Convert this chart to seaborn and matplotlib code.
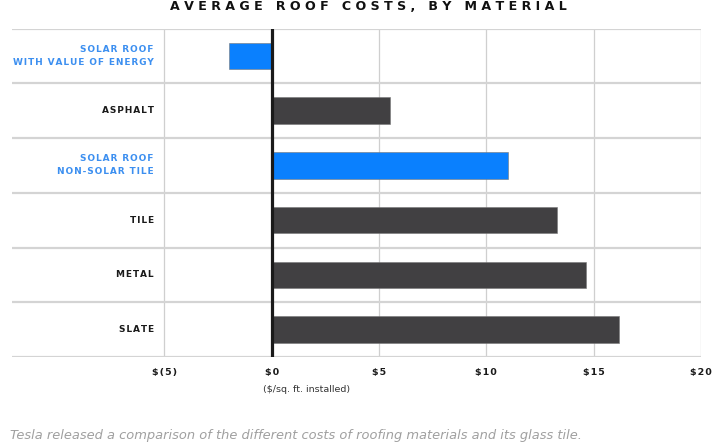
"""
Average roof costs by material, horizontal bar chart.
"""

import matplotlib
matplotlib.use('Agg')
import matplotlib.pyplot as plt
import seaborn as sns
import pandas as pd

materials = ['SOLAR ROOF\nWITH VALUE OF ENERGY', 'ASPHALT', 'SOLAR ROOF\nNON-SOLAR TILE',
             'TILE', 'METAL', 'SLATE']
costs = [-2.0, 5.5, 11.0, 13.3, 14.65, 16.2]
is_solar = [True, False, True, False, False, False]
tick_values = [-5, 0, 5, 10, 15, 20]
tick_labels = ['$(5)', '$0', '$5', '$10', '$15', '$20']

BLUE = '#0a80fe'
BLUE_TEXT = '#3c8ff0'
DARK = '#414042'


def spaced(s, sep=' '):
    # fake letter spacing, matplotlib has none
    return '\n'.join(sep.join(list(line)) for line in s.split('\n'))


def plot_roof_costs(save_path='out.png'):
    sns.set_style('white')
    plt.rcParams['font.family'] = ['DejaVu Sans']

    df = pd.DataFrame({'material': materials, 'cost': costs})
    colors = [BLUE if s else DARK for s in is_solar]

    fig = plt.figure(figsize=(7.17, 4.46), dpi=100)
    ax = fig.add_axes([12 / 717, 1 - 357 / 446, (701 - 12) / 717, (357 - 28.5) / 446])

    sns.barplot(data=df, y='material', x='cost', hue='material', palette=colors,
                orient='h', width=0.48, legend=False, ax=ax, saturation=1,
                edgecolor='#777777', linewidth=0.4)

    ax.set_xlim(-12.1, 20)
    ax.set_ylim(5.5, -0.5)

    # grid
    for v in tick_values:
        ax.axvline(v, color='#cfcfcf', lw=0.9, zorder=0)
    for i in range(len(materials) + 1):
        ax.axhline(i - 0.5, color='#d4d4d4', lw=1.6, zorder=0)
    ax.axvline(0, color='#1a1a1a', lw=2.3, zorder=5)

    for sp in ax.spines.values():
        sp.set_visible(False)

    ax.set_yticks([])
    ax.set_ylabel('')
    ax.set_xlabel('')
    ax.set_xticks(tick_values)
    ax.set_xticklabels([spaced(t, '\u200a') for t in tick_labels], fontsize=6.8,
                       fontweight='bold', color='#1a1a1a')
    ax.tick_params(axis='x', length=0, pad=8)

    for i, (name, solar) in enumerate(zip(materials, is_solar)):
        ax.text(-5.5, i, spaced(name, '\u200a'), ha='right', va='center', fontsize=6.5,
                fontweight='bold', color=BLUE_TEXT if solar else '#1a1a1a', linespacing=1.6)

    fig.text(307 / 717, 1 - 389 / 446, '($/sq. ft. installed)', ha='center', va='center',
             fontsize=6.8, color='#333333')

    title = '   '.join(spaced(w) for w in 'AVERAGE ROOF COSTS, BY MATERIAL'.split(' '))
    fig.text(368 / 717, 1 - 7 / 446, title, ha='center', va='center', fontsize=9.1,
             fontweight='bold', color='#111111')

    fig.text(10 / 717, 1 - 436 / 446,
             'Tesla released a comparison of the different costs of roofing materials and its glass tile.',
             ha='left', va='center', fontsize=9.4, style='italic', color='#a0a0a0')

    fig.savefig(save_path, dpi=100)


if __name__ == '__main__':
    plot_roof_costs()
